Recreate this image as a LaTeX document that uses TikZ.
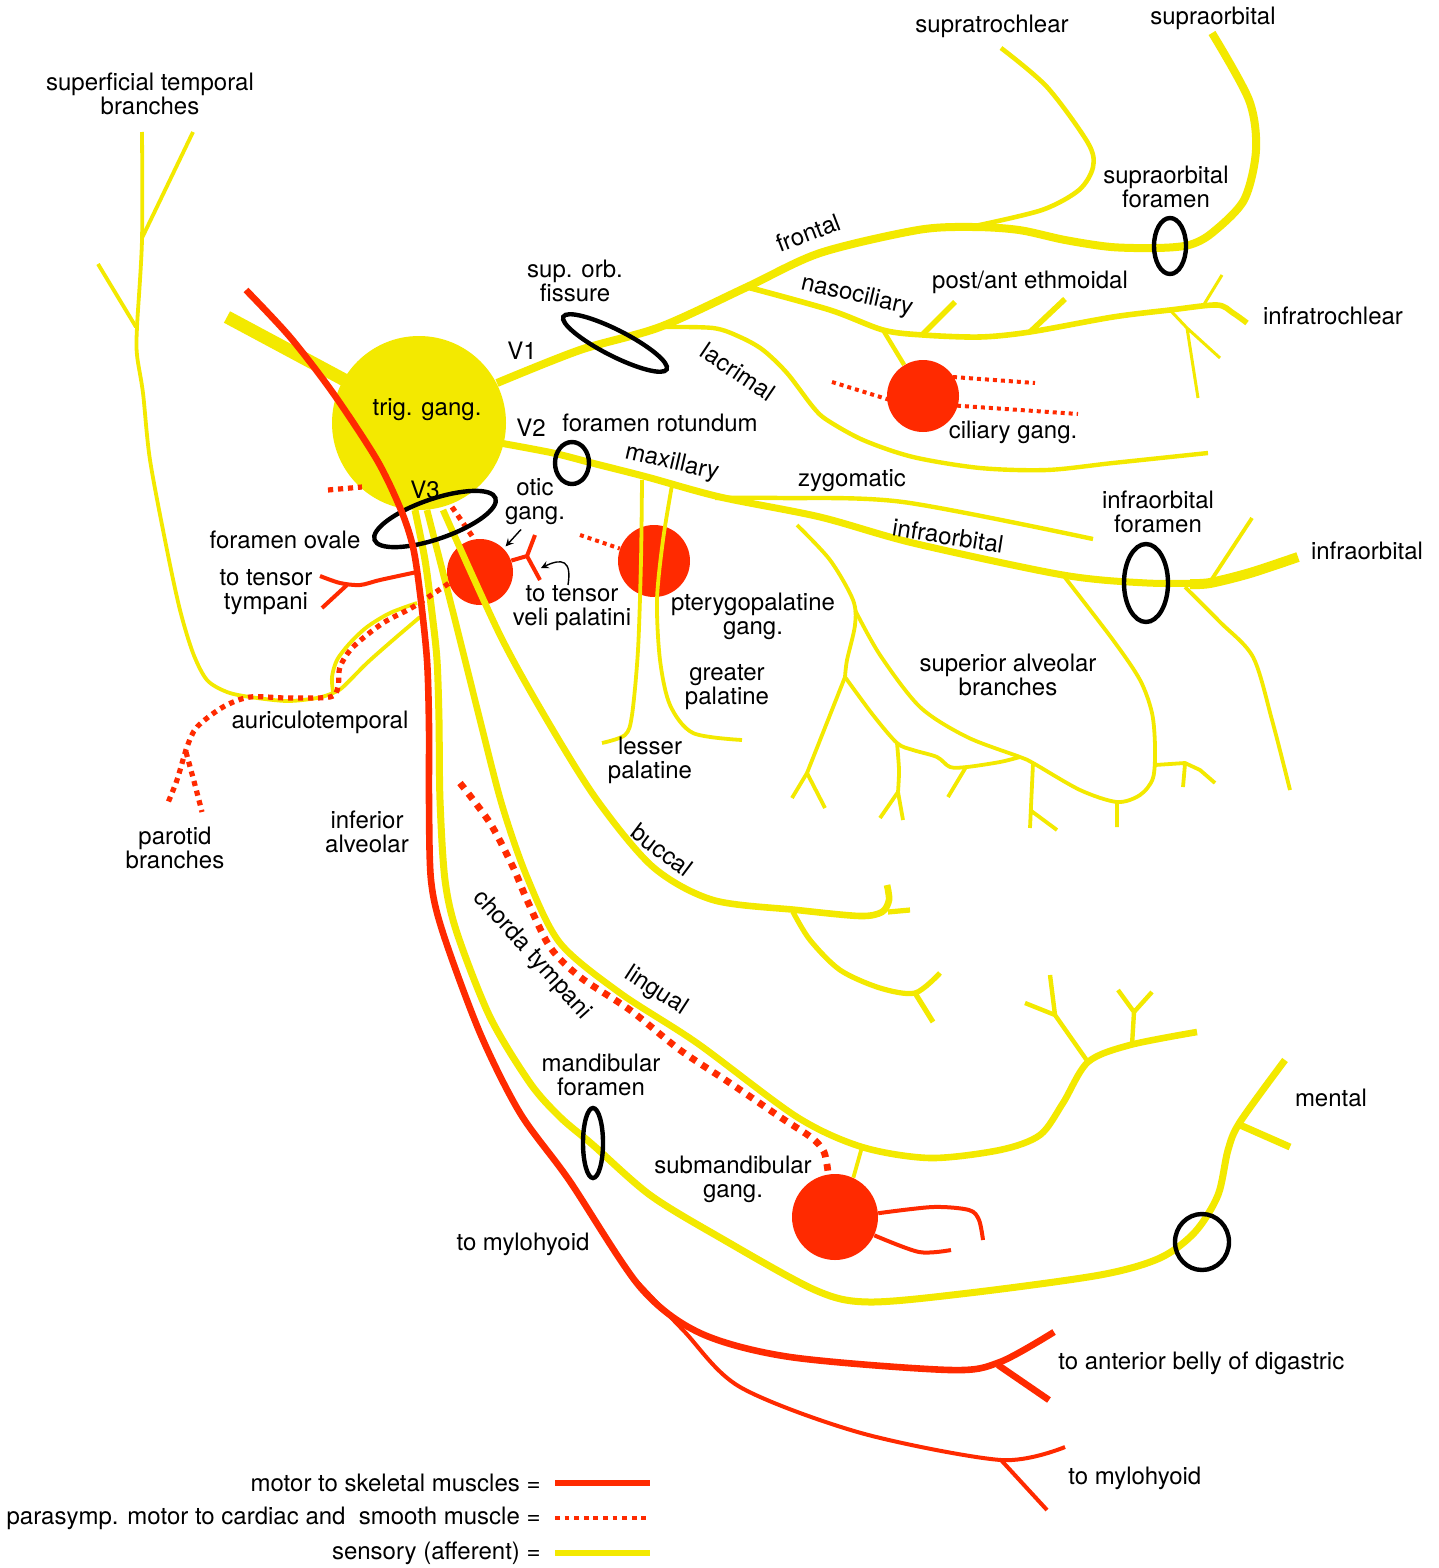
\documentclass[tikz,border=0pt]{standalone}
\usepackage{fontspec}
\setmainfont{TeX Gyre Heros}
\definecolor{nyellow}{RGB}{243,233,0}
\definecolor{nred}{RGB}{255,42,0}
\begin{document}
\begin{tikzpicture}[x=0.5pt,y=-0.5pt,>=stealth,
		sens/.style={draw=nyellow,line width=3.5pt,line join=round},
		sensthin/.style={draw=nyellow,line width=1.9pt,line join=round},
		motor/.style={draw=nred,line width=3.3pt,line join=round},
		motorthin/.style={draw=nred,line width=2pt,line join=round},
		para/.style={draw=nred,line width=2.6pt,dash pattern=on 2.6pt off 2.4pt},
		foramen/.style={draw=black,line width=2.2pt},
		gang/.style={circle,fill=nred,inner sep=0pt},
		lbl/.style={font=\fontsize{12}{12}\selectfont,align=center,inner sep=0pt}]
	\fill[white] (0,0) rectangle (1439,1568);
	\useasboundingbox (0,0) rectangle (1439,1568);
	% ganglia
	\node[gang,minimum size=33pt] (og) at (480,572) {};
	\node[gang,minimum size=36pt] (pg) at (654,561) {};
	\node[gang,minimum size=36pt] (cg) at (923,396) {};
	\node[gang,minimum size=43pt] (smg) at (835,1217) {};
	\draw[sens,line width=6.5pt] (227,317) -- (352,384);
	\node[circle,fill=nyellow,inner sep=0pt,minimum size=87pt] (tg) at (419,423) {};
	% V1
	\draw[sens,line width=4pt] plot[smooth] coordinates {(497,383) (580,350) (660,327) (747,287) (820,253) (918,230) (973,227) (1019,230) (1065,240) (1111,247) (1157,248) (1189,245) (1212,233) (1244,200) (1256,150) (1249,100) (1212,33)};
	\draw[sens,line width=2.3pt] plot[smooth] coordinates {(975,226) (1042,210) (1079,190) (1093,167) (1088,143) (1047,87) (1001,48)};
	\draw[sens,line width=2.8pt] plot[smooth] coordinates {(747,287) (830,310) (883,330) (923,335) (980,337) (1030,332) (1113,317) (1170,310) (1217,305) (1233,313) (1247,323)};
	\draw[sens,line width=2.8pt] (923,334) -- (955,302) (1030,332) -- (1065,299);
	\draw[sensthin,line width=2.2pt] (883,330) -- (cg);
	\draw[sensthin,line width=1.5pt] (1203,306) -- (1222,275) (1170,310) -- (1187,328) -- (1220,358) (1187,328) -- (1198,398);
	\draw[sensthin,line width=2.2pt] plot[smooth] coordinates {(660,327) (713,328) (740,337) (763,350) (787,373) (813,407) (827,420) (863,440) (913,457) (980,468) (1047,470) (1113,463) (1208,453)};
	% V2
	\draw[sens] plot[smooth] coordinates {(500,443) (553,453) (592,463) (647,477) (720,497) (820,517) (913,543) (1063,575) (1147,583) (1210,583)};
	\draw[sens,line width=5pt] plot[smooth] coordinates {(1190,584) (1210,583) (1250,573) (1298,557)};
	\draw[sensthin,line width=2.2pt] plot[smooth] coordinates {(715,498) (780,498) (903,502) (1093,539)};
	\draw[sensthin] (1210,582) -- (1252,518);
	\draw[sensthin] plot[smooth] coordinates {(1185,587) (1220,622) (1253,657) (1272,720) (1290,790)};
	\draw[sensthin] plot[smooth] coordinates {(642,480) (641,560) (638,650) (632,715) (625,735) (602,743)};
	\draw[sensthin] plot[smooth] coordinates {(672,485) (663,540) (657,600) (660,660) (670,705) (693,733) (742,740)};
	% superior alveolar branches
	\draw[sensthin] plot[smooth] coordinates {(797,525) (830,560) (853,600) (855,625) (847,660) (845,677)};
	\draw[sensthin] plot[smooth] coordinates {(845,677) (828,720) (807,773)};
	\draw[sensthin] (792,798) -- (807,773) -- (825,808);
	\draw[sensthin] plot[smooth] coordinates {(845,677) (873,715) (897,743) (913,750) (937,757) (950,767) (967,767) (1000,762) (1020,757)};
	\draw[sensthin] plot[smooth] coordinates {(897,743) (899,770) (898,792)};
	\draw[sensthin] (880,818) -- (898,792) -- (903,820) (966,767) -- (948,797);
	\draw[sensthin] plot[smooth] coordinates {(855,610) (880,655) (920,707) (967,737) (1020,757) (1033,763) (1080,790) (1117,802) (1140,795) (1153,778) (1155,747) (1152,713) (1140,680) (1113,640) (1063,575)};
	\draw[sensthin] (1033,763) -- (1030,828) (1030,810) -- (1057,830) (1117,802) -- (1117,827);
	\draw[sensthin] (1155,765) -- (1185,763) -- (1200,770) -- (1215,783) (1185,764) -- (1183,787);
	% V3
	\draw[sens] plot[smooth] coordinates {(415,510) (425,560) (432,613) (437,660) (439,720) (440,800) (445,880) (457,933) (490,1017) (530,1083) (560,1117) (593,1145) (650,1195) (719,1237) (815,1290) (869,1302) (969,1293) (1100,1275) (1160,1258) (1195,1232) (1218,1195) (1228,1150) (1240,1122) (1285,1060)};
	\draw[sens] (1240,1125) -- (1290,1147);
	\draw[sens,line width=3.3pt] plot[smooth] coordinates {(427,510) (455,620) (480,720) (502,805) (527,877) (560,943) (620,993) (697,1043) (797,1117) (862,1147) (930,1158) (1000,1150) (1040,1135) (1063,1103) (1088,1062) (1130,1045) (1197,1032)};
	\draw[sensthin,line width=2.2pt] (1088,1062) -- (1055,1015) -- (1025,1003) (1055,1015) -- (1050,975) (1132,1045) -- (1134,1012) -- (1118,990) (1134,1012) -- (1152,992);
	\draw[sensthin] (862,1147) -- (smg.65);
	\draw[sens,line width=3.3pt] plot[smooth] coordinates {(443,510) (500,635) (547,720) (597,800) (653,867) (713,900) (797,910) (860,916) (882,912) (889,900) (887,885)};
	\draw[sens,line width=2.6pt] (888,912) -- (910,910);
	\draw[sens,line width=2.6pt] plot[smooth] coordinates {(793,912) (810,940) (840,970) (880,988) (915,993) (940,973)};
	\draw[sens,line width=2.6pt] (915,993) -- (933,1022);
	\draw[sensthin] plot[smooth] coordinates {(417,603) (390,613) (367,627) (350,643) (337,660) (332,677) (333,692)};
	\draw[sensthin] plot[smooth] coordinates {(420,617) (393,640) (367,663) (343,687) (333,693) (317,698) (287,701) (250,697) (227,692) (207,680) (193,653) (180,610) (167,550) (150,460) (143,393) (137,355) (137,327) (142,240) (142,132)};
	\draw[sensthin] (142,238) -- (193,132) (136,327) -- (98,264);
	% parasympathetic
	\draw[para] (328,490) -- (362,487);
	\draw[para] (452,507) -- (og.100);
	\draw[para] plot[smooth] coordinates {(og.200) (413,607) (383,623) (353,647) (340,667) (338,687) (330,697) (287,698) (250,697) (223,707) (197,727) (187,747) (177,780) (167,805)};
	\draw[para] plot[smooth] coordinates {(186,752) (195,785) (202,812)};
	\draw[para,line width=2pt,dash pattern=on 2pt off 2pt] (580,535) -- (pg.160);
	\draw[para,line width=2pt,dash pattern=on 2pt off 2pt] (832,382) -- (890,400) (953,377) -- (1035,383) (933,404) -- (1078,414);
	\draw[para,line width=3.4pt,dash pattern=on 3.4pt off 3.4pt] plot[smooth] coordinates {(460,783) (490,823) (513,867) (527,900) (550,947) (580,977) (630,1010) (680,1050) (730,1083) (780,1117) (812,1138) (824,1152) (828,1172)};
	% foramina
	\draw[foramen,rotate around={-27:(615,343)}] (615,343) ellipse (58 and 13);
	\draw[foramen,rotate around={19:(435,519)}] (435,519) ellipse (64 and 20);
	\draw[foramen] (572,463) ellipse (17 and 21);
	\draw[foramen] (1170,246) ellipse (16 and 28);
	\draw[foramen] (1146,583) ellipse (22 and 39);
	\draw[foramen] (593,1143) ellipse (10 and 35);
	\draw[foramen] (1202,1242) ellipse (27 and 28);
	% motor
	\draw[motor] plot[smooth] coordinates {(246,290) (290,337) (333,393) (377,460) (401,510) (413,547) (420,593) (427,660) (429,727) (429,800) (431,880) (443,933) (480,1033) (520,1113) (569,1180) (640,1287) (700,1333) (790,1357) (950,1370) (1000,1362) (1054,1332)};
	\draw[motor] (998,1365) -- (1049,1400);
	\draw[motorthin] plot[smooth] coordinates {(628,1272) (683,1330) (740,1387) (861,1433) (1001,1460) (1065,1447)};
	\draw[motorthin] (1001,1460) -- (1047,1510);
	\draw[motorthin] plot[smooth] coordinates {(417,572) (380,580) (360,585) (340,583) (320,576)};
	\draw[motorthin] (347,585) -- (322,608);
	\draw[motorthin] (og.20) -- (527,556) -- (535,535) (527,556) -- (540,580);
	\draw[motorthin] plot[smooth] coordinates {(smg.5) (933,1207) (969,1210) (979,1220) (983,1240)};
	\draw[motorthin] plot[smooth] coordinates {(smg.-25) (919,1252) (951,1250)};
	% labels
	\node[lbl] (lsuptemp) at (150,94) {superficial temporal\\branches};
	\node[lbl] (lsuptroch) at (992,26) {supratrochlear};
	\node[lbl] (lsuporb) at (1213,18) {supraorbital};
	\node[lbl] (lsoforamen) at (1166,187) {supraorbital\\foramen};
	\node[lbl,rotate=21] (lfrontal) at (808,233) {frontal};
	\node[lbl] (lsof) at (575,281) {sup. orb.\\fissure};
	\node[lbl] (lvone) at (522,351) {V1};
	\node[lbl,rotate=-13] (lnaso) at (857,296) {nasociliary};
	\node[lbl] (lethm) at (1030,282) {post/ant ethmoidal};
	\node[lbl] (linftroch) at (1333,316) {infratrochlear};
	\node[lbl,rotate=-34] (llacr) at (738,372) {lacrimal};
	\node[lbl] (ltg) at (427,410) {trig. gang.};
	\node[lbl] (lcg) at (1013,432) {ciliary gang.};
	\node[lbl] (lvtwo) at (531,428) {V2};
	\node[lbl] (lrot) at (660,423) {foramen rotundum};
	\node[lbl,rotate=-13] (lmax) at (672,463) {maxillary};
	\node[lbl] (lzyg) at (852,481) {zygomatic};
	\node[lbl] (lvthree) at (425,490) {V3};
	\node[lbl] (lotic) at (535,502) {otic\\gang.};
	\node[lbl] (liofor) at (1158,512) {infraorbital\\foramen};
	\node[lbl,rotate=-9] (lio) at (948,536) {infraorbital};
	\node[lbl] (lioend) at (1367,551) {infraorbital};
	\node[lbl] (lovale) at (285,540) {foramen ovale};
	\node[lbl] (ltympani) at (266,592) {to tensor\\tympani};
	\node[lbl] (lvp) at (572,608) {to tensor\\veli palatini};
	\node[lbl] (lpg) at (753,616) {pterygopalatine\\gang.};
	\node[lbl] (lsab) at (1008,675) {superior alveolar\\branches};
	\node[lbl] (lgp) at (727,687) {greater\\palatine};
	\node[lbl] (laur) at (320,722) {auriculotemporal};
	\node[lbl] (llp) at (650,760) {lesser\\palatine};
	\node[lbl] (lparotid) at (175,848) {parotid\\branches};
	\node[lbl] (lia) at (367,832) {inferior\\alveolar};
	\node[lbl,rotate=-37] (lbuccal) at (662,850) {buccal};
	\node[lbl,rotate=-48] (lchorda) at (532,955) {chorda tympani};
	\node[lbl,rotate=-33] (lling) at (656,991) {lingual};
	\node[lbl] (lmf) at (601,1075) {mandibular\\foramen};
	\node[lbl] (lmental) at (1331,1098) {mental};
	\node[lbl] (lsmg) at (733,1179) {submandibular\\gang.};
	\node[lbl] (lmylo) at (523,1244) {to mylohyoid};
	\node[lbl,anchor=west] (ldig) at (1058,1363) {to anterior belly of digastric};
	\node[lbl,anchor=west] (lmyloend) at (1068,1478) {to mylohyoid};
	\coordinate (tvp) at (541,568);
	\draw[->,line width=0.7pt] ([xshift=-7pt,yshift=-2pt]lotic.south) -- ([shift={(1pt,1pt)}]og.north east);
	\draw[->,line width=0.7pt] ([xshift=-2pt]lvp.north) .. controls (572,560) and (562,558) .. (tvp);
	% legend
	\node[lbl,anchor=east] (lmotor) at (541,1483) {motor to skeletal muscles =};
	\node[lbl,anchor=east] (lpara) at (541,1518) {parasymp. motor to cardiac and\ \ smooth muscle =};
	\node[lbl,anchor=east] (lsens) at (541,1553) {sensory (afferent) =};
	\draw[motor] ([xshift=7pt]lmotor.east) -- +(95,0);
	\draw[para,line width=2.4pt,dash pattern=on 2.4pt off 2.4pt] ([xshift=7pt]lpara.east) -- +(95,0);
	\draw[sens,line width=3pt] ([xshift=7pt]lsens.east) -- +(95,0);
\end{tikzpicture}
\end{document}
